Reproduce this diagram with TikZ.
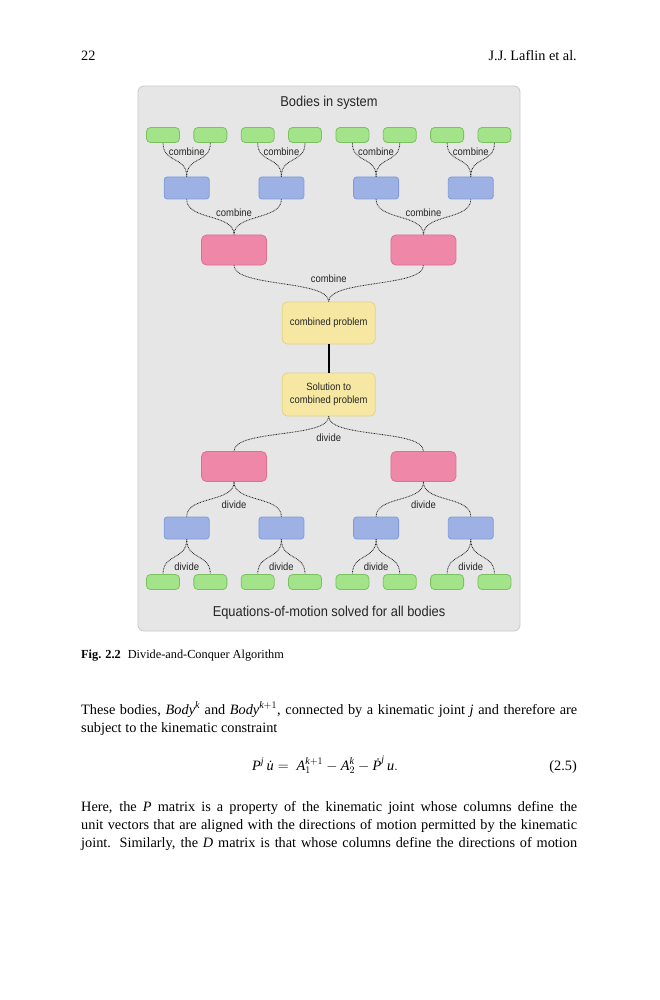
\documentclass[tikz,border=0pt]{standalone}
\usepackage{fontspec}
\usepackage{amsmath}
\usetikzlibrary{calc}
\setmainfont{Liberation Serif}
\newfontfamily\diag[FakeStretch=0.9]{Liberation Sans}
\definecolor{panelF}{HTML}{E6E6E6}
\definecolor{panelB}{HTML}{CACACA}
\definecolor{gF}{HTML}{A3E48B}
\definecolor{gB}{HTML}{7CC15F}
\definecolor{bF}{HTML}{9DB1E5}
\definecolor{bB}{HTML}{7E9BD8}
\definecolor{pF}{HTML}{EF87A9}
\definecolor{pB}{HTML}{DE6E92}
\definecolor{yF}{HTML}{F6E8A3}
\definecolor{yB}{HTML}{E3D384}
\definecolor{txt}{HTML}{262626}
\definecolor{linkc}{HTML}{2A2A2A}
\newcommand\mv[1]{\text{\itshape #1}}
\newcommand\conn[3]{\draw[link] (#1) .. controls ($(#1)+(0,#3)$) and ($(#2)-(0,#3)$) .. (#2);}
\tikzset{
  box/.style={line width=0.8pt, inner sep=0pt},
  gbox/.style={box, rounded corners=4pt, draw=gB, fill=gF, minimum width=33pt, minimum height=15pt},
  bbox/.style={box, rounded corners=3pt, draw=bB, fill=bF, minimum width=45pt, minimum height=22pt},
  pbox/.style={box, rounded corners=5pt, draw=pB, fill=pF, minimum width=65pt, minimum height=30pt},
  ybox/.style={box, rounded corners=5pt, draw=yB, fill=yF, minimum width=93pt, minimum height=42pt,
    font=\diag\fontsize{10.5}{13}\selectfont, text=txt, align=center},
  link/.style={draw=linkc, line width=0.85pt, dash pattern=on 0.8pt off 0.8pt},
  lab/.style={font=\diag\fontsize{10.5}{12}\selectfont, text=txt, inner sep=1pt},
  big/.style={font=\diag\fontsize{14.3}{16}\selectfont, text=txt, inner sep=0pt},
  body/.style={font=\fontsize{14.3}{17}\selectfont, inner sep=0pt},
}
\begin{document}
\begin{tikzpicture}[x=1pt,y=-1pt]
\useasboundingbox (0,0) rectangle (659,1000);
\fill[white] (0,0) rectangle (659,1000);
% header
\node[body, anchor=base west] (hdl) at (81,61) {22};
\node[body, anchor=base east] (hdr) at (577,61) {J.J. Laflin et al.};
% panel
\node[draw=panelB, fill=panelF, line width=0.8pt, rounded corners=6pt,
  minimum width=382pt, minimum height=545pt, inner sep=0pt] (panel) at (329,358.5) {};
\node[big] (top) at (329,103) {Bodies in system};
\node[big] (bot) at (329,613) {Equations-of-motion solved for all bodies};
% boxes
\foreach \i in {0,...,7} {
  \node[gbox] (gt\i) at ({163+47.35*\i},135) {};
  \node[gbox] (gb\i) at ({163+47.35*\i},582) {};
}
\foreach \i in {0,...,3} {
  \node[bbox] (bt\i) at ({186.7+94.7*\i},188) {};
  \node[bbox] (bb\i) at ({186.7+94.7*\i},528) {};
}
\node[pbox] (pt0) at (234.05,250) {};
\node[pbox] (pt1) at (423.45,250) {};
\node[pbox] (pb0) at (234.05,466.5) {};
\node[pbox] (pb1) at (423.45,466.5) {};
\node[ybox] (y1) at (328.7,323) {combined problem};
\node[ybox, minimum height=43pt] (y2) at (328.7,394.5) {Solution to\\combined problem};
\draw[line width=1.8pt, black] (y1.south) -- (y2.north);
% combine / divide connectors
\foreach \i in {0,...,3} {
  \pgfmathtruncatemacro\a{2*\i}
  \pgfmathtruncatemacro\b{2*\i+1}
  \conn{gt\a.south}{bt\i.north}{21}
  \conn{gt\b.south}{bt\i.north}{21}
  \node[lab] (cl\i) at ({186.7+94.7*\i},151.5) {combine};
  \conn{bb\i.south}{gb\a.north}{21}
  \conn{bb\i.south}{gb\b.north}{21}
  \node[lab] (dl\i) at ({186.7+94.7*\i},567) {divide};
}
\foreach \i in {0,1} {
  \pgfmathtruncatemacro\a{2*\i}
  \pgfmathtruncatemacro\b{2*\i+1}
  \conn{bt\a.south}{pt\i.north}{21}
  \conn{bt\b.south}{pt\i.north}{21}
  \node[lab] (cm\i) at ({234.05+189.4*\i},213) {combine};
  \conn{pb\i.south}{bb\a.north}{21}
  \conn{pb\i.south}{bb\b.north}{21}
  \node[lab] (dm\i) at ({234.05+189.4*\i},505) {divide};
}
\conn{pt0.south}{y1.north}{22}
\conn{pt1.south}{y1.north}{22}
\node[lab] (ctop) at (328.7,279) {combine};
\conn{y2.south}{pb0.north}{22}
\conn{y2.south}{pb1.north}{22}
\node[lab] (dtop) at (328.7,438) {divide};
% caption
\node[font=\fontsize{12.3}{14}\selectfont, inner sep=0pt, anchor=base west] (cap) at (81,658)
  {\textbf{Fig. 2.2}\hspace{7pt}Divide-and-Conquer Algorithm};
% body text
\node[body, anchor=base west] (l1) at (81,714) {\makebox[496pt][s]{These bodies, \textit{Body}$^{\mv{k}}$ and \textit{Body}$^{\mv{k}+1}$, connected by a kinematic joint \textit{j} and therefore are}};
\node[body, anchor=base west] (l2) at (81,732) {subject to the kinematic constraint};
\node[body, anchor=base west] (eq) at (252,770) {$\mv{P}^{\mv{j}}\,\mv{\.u} = \;\mv{A}_1^{\mv{k}+1}-\mv{A}_2^{\mv{k}}-\mv{\.P}^{\mv{j}}\,\mv{u}.$};
\node[body, anchor=base east] (eqn) at (577,770) {(2.5)};
\node[body, anchor=base west] (p1) at (81,811) {\makebox[496pt][s]{Here, the \textit{P} matrix is a property of the kinematic joint whose columns define the}};
\node[body, anchor=base west] (p2) at (81,829) {\makebox[496pt][s]{unit vectors that are aligned with the directions of motion permitted by the kinematic}};
\node[body, anchor=base west] (p3) at (81,847) {\makebox[496pt][s]{joint. Similarly, the \textit{D} matrix is that whose columns define the directions of motion}};
\end{tikzpicture}
\end{document}
